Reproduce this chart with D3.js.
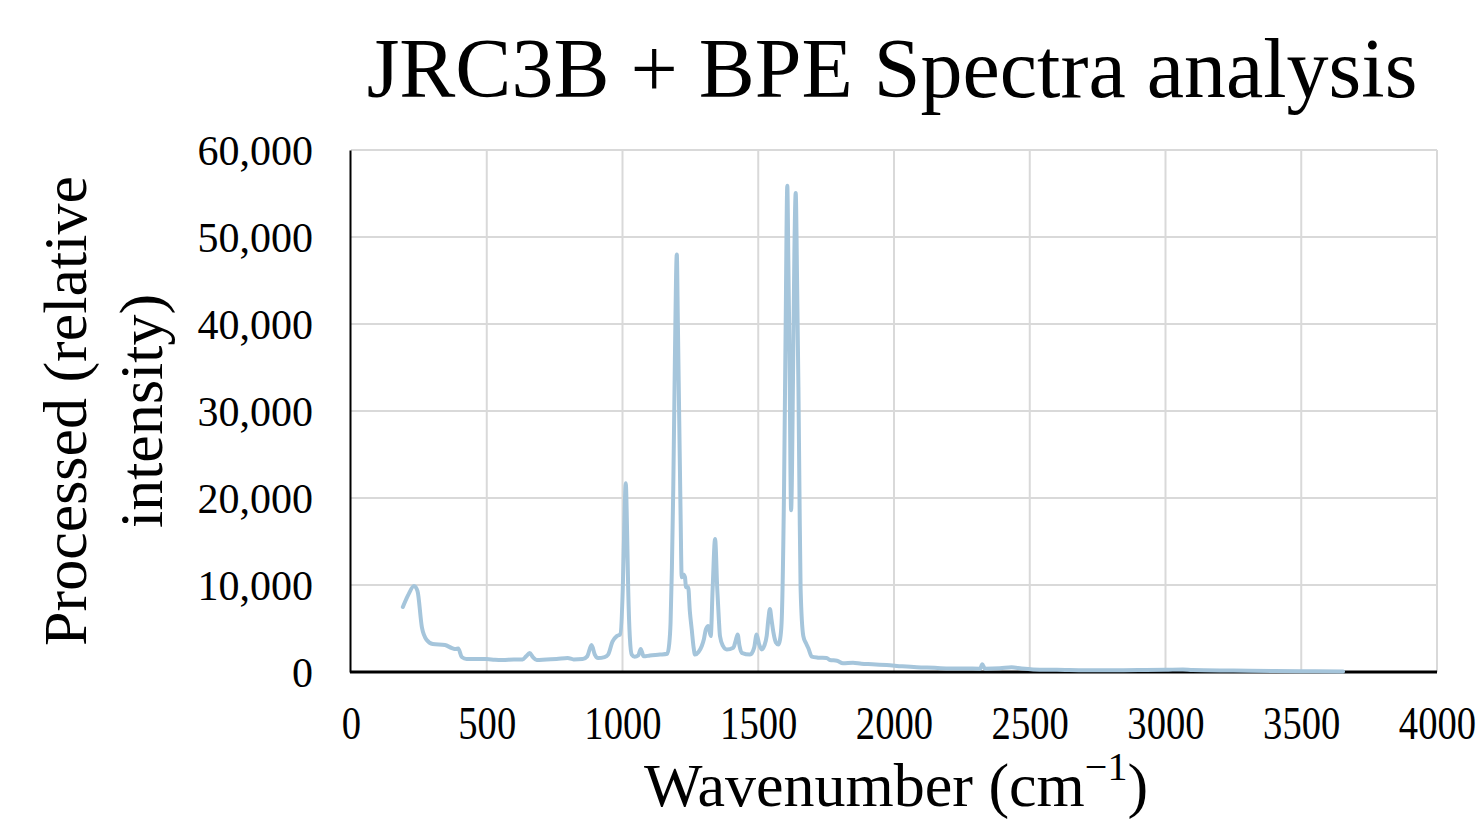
<!DOCTYPE html>
<html>
<head>
<meta charset="utf-8">
<script src="https://cdn.jsdelivr.net/npm/d3@7"></script>
<style>
  body { margin: 0; background: #fff; overflow: hidden; }
  text { font-family: "Liberation Serif", "Times New Roman", serif; fill: #000; }
</style>
</head>
<body>
<div id="chart"></div>
<script>
// spectrum
var wavenumber = [191, 210, 232, 245, 261, 279, 301, 346, 371, 386, 395, 408, 426, 500, 530, 559, 600, 632, 645, 658,
  670, 684, 720, 757, 798, 820, 853, 870, 886, 898, 910, 934, 947, 963, 979, 991, 1001, 1006, 1012, 1017,
  1021, 1027, 1034, 1045, 1058, 1067, 1078, 1101, 1138, 1165, 1172, 1177, 1182, 1187, 1193, 1200, 1204, 1209, 1214, 1218,
  1224, 1230, 1234, 1242, 1248, 1255, 1262, 1267, 1280, 1292, 1300, 1307, 1316, 1325, 1332, 1341, 1349, 1355, 1359, 1370,
  1384, 1408, 1417, 1424, 1431, 1439, 1470, 1485, 1494, 1503, 1513, 1522, 1531, 1537, 1543, 1549, 1556, 1565, 1574, 1580,
  1586, 1595, 1601, 1607, 1611, 1615, 1621, 1629, 1633, 1638, 1643, 1648, 1652, 1656, 1666, 1676, 1685, 1697, 1720, 1752,
  1764, 1790, 1812, 1849, 1880, 1920, 1973, 2030, 2084, 2150, 2206, 2260, 2317, 2325, 2335, 2390, 2433, 2470, 2512, 2600,
  2759, 2900, 3000, 3064, 3100, 3250, 3400, 3550, 3654]
var intensity = [7470, 8800, 9890, 9300, 5170, 3680, 3220, 3100, 2760, 2640, 2700, 1720, 1490, 1490, 1400, 1380, 1450, 1450, 1800, 2180,
  1700, 1380, 1450, 1490, 1610, 1450, 1490, 1800, 3100, 2000, 1600, 1720, 2000, 3500, 4130, 4300, 9540, 16000, 21700, 16000,
  9500, 4000, 2000, 1750, 1900, 2650, 1800, 1900, 2000, 2100, 3200, 5680, 12000, 21100, 36000, 48000, 40000, 28850, 18000, 10900,
  11200, 10900, 9740, 9740, 7000, 4900, 2800, 2000, 2300, 2990, 3800, 4900, 5290, 4130, 9540, 15300, 9540, 6000, 4130, 3000,
  2590, 2800, 3600, 4320, 3000, 2200, 2000, 2800, 4320, 3200, 2600, 3000, 4130, 6000, 7240, 6000, 4520, 3400, 3160, 3700,
  5680, 21100, 40000, 55900, 47000, 36600, 18600, 36600, 48000, 55050, 45000, 32700, 20000, 9540, 4130, 3300, 2700, 1760, 1650, 1600,
  1380, 1300, 1000, 1070, 950, 900, 800, 650, 540, 480, 400, 400, 380, 880, 380, 420, 540, 400, 300, 260,
  200, 220, 250, 300, 220, 170, 120, 80, 50]

var xTicks = [0, 500, 1000, 1500, 2000, 2500, 3000, 3500, 4000]
var yTicks = [0, 10000, 20000, 30000, 40000, 50000, 60000]

var chartTitle = 'JRC3B + BPE Spectra analysis'
var yLabelLines = ['Processed (relative', 'intensity)']

var width = 1484
var height = 819
var margin = { top: 150, bottom: 147, left: 351, right: 47 }

var svg = d3.select('#chart')
  .append('svg')
  .attr('width', width)
  .attr('height', height)

var x = d3.scaleLinear()
  .domain([0, 4000])
  .range([margin.left, width - margin.right])

var y = d3.scaleLinear()
  .domain([0, 60000])
  .range([height - margin.bottom, margin.top])

// gridlines
svg.append('g')
  .selectAll('line.hgrid')
  .data(yTicks)
  .enter()
  .append('line')
  .attr('x1', x(0))
  .attr('x2', x(4000))
  .attr('y1', d => y(d))
  .attr('y2', d => y(d))
  .attr('stroke', '#d9d9d9')
  .attr('stroke-width', 2)

svg.append('g')
  .selectAll('line.vgrid')
  .data(xTicks.slice(1))
  .enter()
  .append('line')
  .attr('x1', d => x(d))
  .attr('x2', d => x(d))
  .attr('y1', y(0))
  .attr('y2', y(60000))
  .attr('stroke', '#d9d9d9')
  .attr('stroke-width', 2)

// axes
var yAxis = svg.append('g')
  .attr('transform', 'translate(' + (x(0) - 1) + ',0)')
  .call(d3.axisLeft(y).tickValues(yTicks).tickSize(0).tickPadding(37).tickFormat(d3.format(',')))
yAxis.select('.domain').attr('stroke', '#000').attr('stroke-width', 2)
yAxis.selectAll('text')
  .attr('font-size', '42px')
  .attr('font-family', '"Liberation Serif", serif')
  .attr('dy', '0.35em')

var xAxis = svg.append('g')
  .attr('transform', 'translate(0,' + y(0) + ')')
  .call(d3.axisBottom(x).tickValues(xTicks).tickSize(0).tickPadding(34).tickFormat(d3.format('d')))
xAxis.select('.domain').attr('stroke', 'none')
// the tick labels in the picture are set narrow
xAxis.selectAll('text')
  .attr('font-size', '46px')
  .attr('font-family', '"Liberation Serif", serif')
  .attr('transform', 'scale(0.84,1)')

// bottom axis line
svg.append('line')
  .attr('x1', x(0) - 1)
  .attr('x2', x(4000))
  .attr('y1', y(0))
  .attr('y2', y(0))
  .attr('stroke', '#000')
  .attr('stroke-width', 3)

// spectrum line
var points = wavenumber.map((w, i) => [w, intensity[i]])
svg.append('path')
  .datum(points)
  .attr('fill', 'none')
  .attr('stroke', '#a5c5db')
  .attr('stroke-width', 4)
  .attr('stroke-linejoin', 'round')
  .attr('stroke-linecap', 'round')
  .attr('d', d3.line().x(d => x(d[0])).y(d => y(d[1])).curve(d3.curveMonotoneX))

// title
svg.append('text')
  .attr('x', 892)
  .attr('y', 97)
  .attr('text-anchor', 'middle')
  .attr('font-size', '84px')
  .text(chartTitle)

// y label
svg.append('g')
  .attr('transform', 'translate(86,' + y(30000) + ') rotate(-90)')
  .selectAll('text')
  .data(yLabelLines)
  .enter()
  .append('text')
  .attr('x', 0)
  .attr('y', (d, i) => i * 76)
  .attr('text-anchor', 'middle')
  .attr('font-size', '62px')
  .text(d => d)

// x label with superscript
var xLabel = svg.append('text')
  .attr('x', 896)
  .attr('y', 806)
  .attr('text-anchor', 'middle')
  .attr('font-size', '62px')
xLabel.append('tspan').text('Wavenumber (cm')
xLabel.append('tspan').attr('font-size', '40px').attr('dy', -26).text('\u22121')
xLabel.append('tspan').attr('dy', 26).text(')')
</script>
</body>
</html>
